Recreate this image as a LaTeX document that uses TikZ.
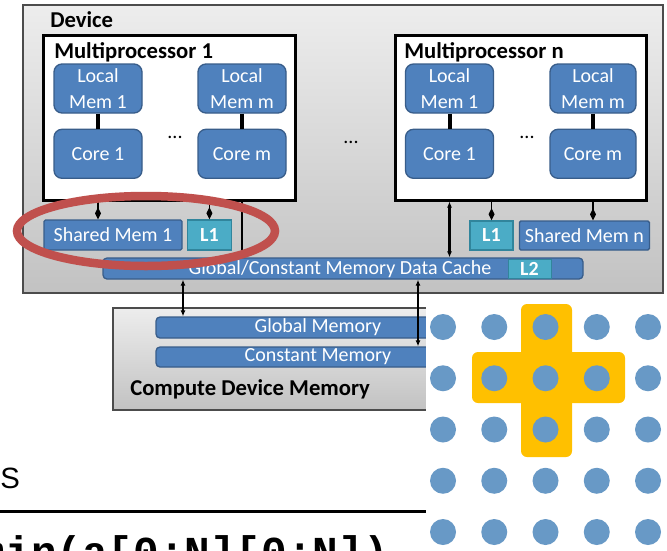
\documentclass[tikz,border=0pt]{standalone}
\usepackage{fontspec}
\setmainfont{Carlito}
\newfontfamily\letterfont{Liberation Sans}
\newfontfamily\codefont{Liberation Mono}
\usepackage{tikz}
\usetikzlibrary{arrows.meta, positioning}

\newlength\pxu
\setlength\pxu{0.75pt}

\definecolor{boxblue}{HTML}{4F81BD}
\definecolor{boxedge}{HTML}{385D8A}
\definecolor{tealfill}{HTML}{4BACC6}
\definecolor{tealedge}{HTML}{31859C}
\definecolor{greytop}{HTML}{EDEDED}
\definecolor{greybot}{HTML}{C2C2C2}
\definecolor{hlred}{HTML}{C0504D}
\definecolor{dotblue}{HTML}{6899C6}
\definecolor{crossyellow}{HTML}{FFC000}

\begin{document}
\begin{tikzpicture}[x=0.75pt, y=-0.75pt,
    greybox/.style={draw=black!70, line width=1.3\pxu, top color=greytop, bottom color=greybot, inner sep=0},
    mpbox/.style={draw=black, line width=3\pxu, fill=white, inner sep=0, minimum height=165\pxu},
    membox/.style={draw=boxedge, fill=boxblue, rounded corners=8\pxu, line width=1.3\pxu, text=white,
                   align=center, minimum width=88\pxu, minimum height=49\pxu, inner sep=0,
                   font=\fontsize{15}{19}\selectfont},
    barbox/.style={draw=boxedge, fill=boxblue, line width=1.3\pxu, text=white, inner sep=0,
                   font=\fontsize{15}{17}\selectfont},
    cachebox/.style={draw=tealedge, fill=tealfill, line width=1.5\pxu, text=white, inner sep=0,
                   font=\fontsize{15}{17}\selectfont\bfseries},
    title/.style={anchor=base west, inner sep=0, font=\fontsize{17}{19}\selectfont\bfseries},
    gap/.style={inner sep=0, font=\fontsize{15}{17}\selectfont},
    link/.style={line width=4\pxu},
    tap/.style={line width=1.2\pxu, -{Diamond[length=9pt,width=4.5pt]}},
    feed/.style={line width=2.5\pxu, -{Latex[length=4.5pt,width=3.75pt]}},
    bus/.style={line width=2.5\pxu, {Latex[length=4.5pt,width=3.75pt]}-{Latex[length=4.5pt,width=3.75pt]}},
    dot/.style={circle, fill=dotblue, minimum size=26\pxu, inner sep=0}
]
    \useasboundingbox (0,0) rectangle (667,550);
    \clip (0,0) rectangle (667,550);

    % device
    \node[greybox, minimum width=640\pxu, minimum height=288\pxu] (dev) at (343,149) {};
    \node[title] (devlbl) at (50,27.5) {Device};

    % multiprocessor 1
    \node[mpbox, minimum width=252\pxu] (mpA) at (169,117.5) {};
    \node[title] (mpAlbl) at (54,58.5) {Multiprocessor 1};
    \node[membox] (lmA1) at (98,88.5) {Local\\Mem 1};
    \node[membox] (lmAm) at (242,88.5) {Local\\Mem m};
    \node[membox, below=15\pxu of lmA1] (coA1) {Core 1};
    \node[membox, below=15\pxu of lmAm] (coAm) {Core m};
    \node[gap] (dotsA) at (175,137) {...};
    \draw[link] (lmA1) -- (coA1);
    \draw[link] (lmAm) -- (coAm);

    \node[gap] (dotsMP) at (351,142) {...};

    % multiprocessor n
    \node[mpbox, minimum width=251\pxu] (mpB) at (520.5,117.5) {};
    \node[title] (mpBlbl) at (404,58.5) {Multiprocessor n};
    \node[membox] (lmB1) at (449.5,88.5) {Local\\Mem 1};
    \node[membox, minimum width=86\pxu] (lmBm) at (593,88.5) {Local\\Mem m};
    \node[membox, below=15\pxu of lmB1] (coB1) {Core 1};
    \node[membox, minimum width=86\pxu, below=15\pxu of lmBm] (coBm) {Core m};
    \node[gap] (dotsB) at (527,137) {...};
    \draw[link] (lmB1) -- (coB1);
    \draw[link] (lmBm) -- (coBm);

    % shared mem, L1, cache
    \node[barbox, rounded corners=1.5\pxu, minimum width=138\pxu, minimum height=30\pxu] (shA) at (113,235) {Shared Mem 1};
    \node[cachebox, minimum width=44\pxu, minimum height=30\pxu, right=4\pxu of shA] (l1A) {L1};
    \node[cachebox, minimum width=43\pxu, minimum height=29\pxu] (l1B) at (491.5,235.5) {L1};
    \node[barbox, rounded corners=1.5\pxu, minimum width=130\pxu, minimum height=29\pxu, right=5\pxu of l1B] (shB) {Shared Mem n};
    \node[barbox, rounded corners=4\pxu, minimum width=480\pxu, minimum height=21\pxu] (cache) at (343,268.5) {};
    \node[cachebox, line width=1\pxu, minimum width=43\pxu, minimum height=19\pxu] (l2) at (529.5,268.5) {L2};
    \node[gap, text=white] (cachelbl) at (340,269.5) {Global/Constant Memory Data Cache};

    \draw[tap] (mpA.south -| lmA1) -- (shA.north -| lmA1);
    \draw[tap] (mpA.south -| l1A) -- (l1A.north);
    \draw[feed] (mpA.south -| lmAm) -- (cache.north -| lmAm);
    \draw[bus] (mpB.south -| lmB1) -- (cache.north -| lmB1);
    \draw[tap] (mpB.south -| l1B) -- (l1B.north);
    \draw[tap] (mpB.south -| lmBm) -- (shB.north -| lmBm);

    % highlight
    \draw[hlred, line width=8.5\pxu] (146,231) ellipse [x radius=129\pxu, y radius=35\pxu];

    % compute device memory
    \node[greybox, minimum width=347\pxu, minimum height=102\pxu] (cdm) at (286.5,359) {};
    \node[barbox, rounded corners=4\pxu, minimum width=324\pxu, minimum height=21\pxu] (glob) at (318,327.5) {Global Memory};
    \node[barbox, rounded corners=4\pxu, minimum width=324\pxu, minimum height=20\pxu] (const) at (318,357) {Constant Memory};
    \node[title] (cdmlbl) at (130,395) {Compute Device Memory};
    \coordinate (gx) at (183,0);
    \coordinate (cx) at (418,0);
    \draw[bus] (cache.south -| gx) -- (glob.north -| gx);
    \draw[bus] (cache.south -| cx) -- (const.north -| cx);

    % stencil grid
    \fill[white] (426,296) rectangle (667,550);
    \fill[crossyellow, rounded corners=6\pxu] (521,304) rectangle (572,457);
    \fill[crossyellow, rounded corners=6\pxu] (472,352) rectangle (625,403);
    \foreach \i in {0,...,4}
      \foreach \j in {0,...,4}
        \node[dot] (g\i\j) at (443+51.25*\i, 327+51.25*\j) {};

    % slide text
    \node[anchor=base west, inner sep=0, font=\letterfont\fontsize{22}{24}\selectfont] (sletter) at (0,488) {S};
    \draw[line width=3\pxu] (0,511) -- (426,511);
    \node[anchor=base west, inner sep=0, font=\codefont\bfseries\fontsize{32}{34}\selectfont] (code) at (-20.4,566) {min(a[0:N][0:N])};
\end{tikzpicture}
\end{document}
